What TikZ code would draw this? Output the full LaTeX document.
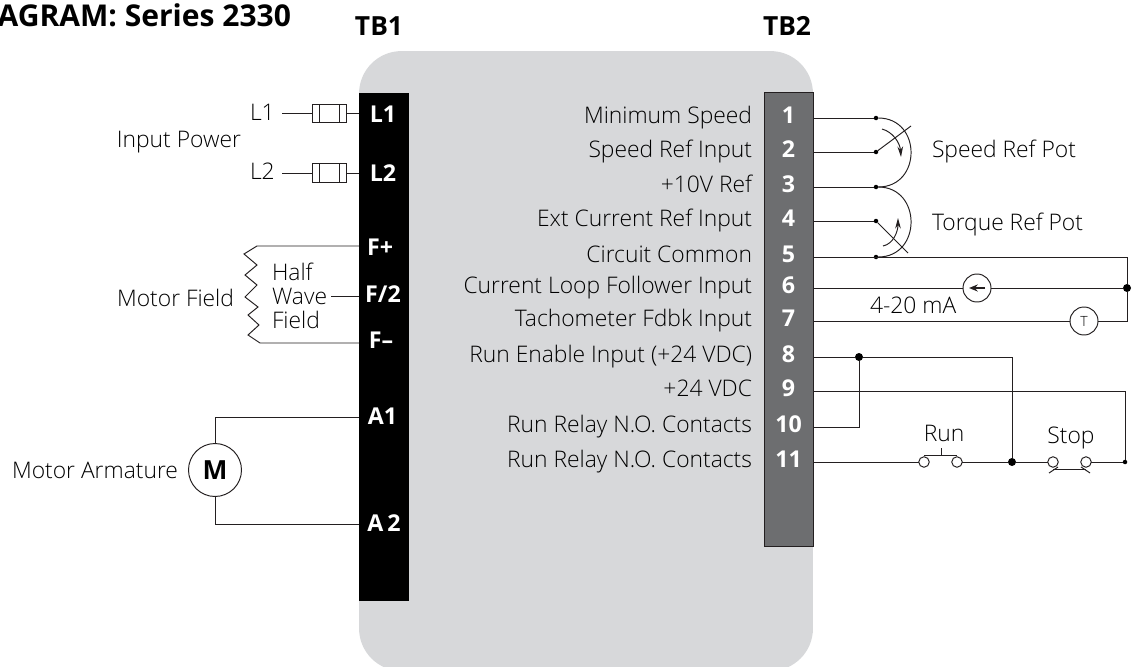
\documentclass[tikz,border=0pt]{standalone}
\usepackage{fontspec}
\setmainfont{Open Sans Light}[BoldFont={Open Sans Bold}]
\usetikzlibrary{arrows.meta,positioning}
\definecolor{panelgray}{HTML}{D7D8DA}
\definecolor{stripgray}{HTML}{6D6E70}
\definecolor{inkgray}{HTML}{231F20}
\begin{document}
\begin{tikzpicture}[
  x=0.02cm, y=-0.02cm,
  every node/.style={font=\fontsize{13}{14}\selectfont, text=black, inner sep=0pt, outer sep=0pt},
  panel/.style={rectangle, fill=panelgray, rounded corners=0.85cm, minimum width=9.08cm, minimum height=12.4cm},
  tbone/.style={rectangle, minimum width=1cm, font=\fontsize{13.2}{14}\bfseries\selectfont, text=white, text height=9.6pt, text depth=0pt},
  tbtwo/.style={rectangle, minimum width=0.98cm, font=\fontsize{13.2}{14}\bfseries\selectfont, text=white, text height=8.6pt, text depth=2pt},
  termlabel/.style={left=0.24cm of #1, text height=8.6pt, text depth=2pt},
  heading/.style={font=\fontsize{15}{16}\bfseries\selectfont, text=black},
  wire/.style={line width=0.55pt, draw=inkgray},
  jdot/.style={circle, fill=black, minimum size=0.16cm},
  smalldot/.style={circle, fill=black, minimum size=0.09cm},
  fuse/.style={rectangle, draw=inkgray, line width=0.55pt, fill=white, minimum width=0.68cm, minimum height=0.37cm},
  meter/.style={circle, draw=inkgray, line width=0.55pt, fill=white, minimum size=0.56cm},
  contact/.style={circle, draw=inkgray, line width=0.55pt, fill=white, minimum size=0.21cm}
]
\useasboundingbox (0,0) rectangle (1132,666);

% --- Panel and terminal strips ---
\node[panel] (board) at (586,361) {};
\node[rectangle, fill=black, minimum width=1cm, minimum height=10.16cm] (stripone) at (384,347) {};
\node[rectangle, fill=stripgray, draw=inkgray, line width=0.5pt, minimum width=0.98cm, minimum height=9.08cm] (striptwo) at (788.5,319) {};

\node[heading, font=\fontsize{17.1}{18}\bfseries\selectfont] (titlehead) [anchor=base east] at (291,27) {AGRAM: Series 2330};
\node[heading] (tbonehead) [anchor=base] at (379,35) {TB1};
\node[heading] (tbtwohead) [anchor=base] at (787,35) {TB2};

% --- TB1 terminals ---
\foreach \name/\x/\y/\txt in {la/383/114/L1, lb/383/173.5/L2, fp/380/247/F+, fh/383/294/{F/2}, fm/381/340/F--, aa/382.5/416/A1, ab/384/523/A\,2}
  \node[tbone] (\name) at (\x,\y) {\txt};

% --- TB2 terminals and labels ---
\foreach \n/\y/\txt in {1/118/Minimum Speed, 2/152/Speed Ref Input, 3/187/+10V Ref,
    4/221/Ext Current Ref Input, 5/257/Circuit Common, 6/288/Current Loop Follower Input,
    7/321/Tachometer Fdbk Input, 8/357/Run Enable Input (+24 VDC), 9/391/+24 VDC,
    10/427/Run Relay N.O. Contacts, 11/462/Run Relay N.O. Contacts}{
  \node[tbtwo] (t\n) at (788.5,\y) {\n};
  \node[termlabel=striptwo.west |- t\n] (lab\n) {\txt};
}

% --- Input power ---
\node (lineone) [anchor=base west] at (250,120) {L1};
\node (linetwo) [anchor=base west] at (250,179) {L2};
\node (inpower) [anchor=base east] at (241,147) {Input Power};
\node[fuse] (fusea) at (329,113.5) {};
\node[fuse] (fuseb) at (329,173) {};
\foreach \f in {fusea,fuseb}{
  \draw[wire] (\f.north west) ++(7,0) -- ++(0,18.5);
  \draw[wire] (\f.north east) ++(-7,0) -- ++(0,18.5);
}
\coordinate (lineonend) at (282,113.5);
\coordinate (linetwoend) at (282,173);
\draw[wire] (lineonend) -- (fusea.west);
\draw[wire] (linetwoend) -- (fuseb.west);
\draw[wire] (fusea.east) -- (stripone.west |- fusea);
\draw[wire] (fuseb.east) -- (stripone.west |- fuseb);

% --- Motor field ---
\node (motfield) [anchor=base east] at (234,306) {Motor Field};
\node[align=left, anchor=west, font=\fontsize{13}{13.6}\selectfont] (halfwave) at (272,296) {Half\\Wave\\Field};
\draw[wire] (stripone.west |- 0,246) -- (257,246) -- (244,254) -- (257,265) -- (245,275) -- (257,285)
  -- (245,297) -- (258,307) -- (248,315) -- (259,325) -- (248,335) -- (260,343) -- (stripone.west |- 0,343);
\draw[wire] (331,296) -- (stripone.west |- 0,296);

% --- Motor armature ---
\node[circle, draw=inkgray, line width=0.55pt, minimum size=1.06cm, font=\fontsize{15}{16}\bfseries\selectfont] (motor) at (215,470) {M};
\node (armature) [anchor=base east] at (178,478) {Motor Armature};
\draw[wire] (motor.north) -- (motor.north |- 0,417) -- (stripone.west |- 0,417);
\draw[wire] (motor.south) -- (motor.south |- 0,524) -- (stripone.west |- 0,524);

% --- Speed and torque pots ---
\foreach \n in {1,2,3,4,5}{
  \node[smalldot] (d\n) at (876,0 |- t\n) {};
  \draw[wire] (t\n.east) -- (d\n);
}
\draw[wire] (d1) .. controls +(46,0) and +(46,0) .. (d3);
\draw[wire] (d3) .. controls +(46,0) and +(46,0) .. (d5);
\coordinate (speedtip) at (911,126);
\coordinate (torquetip) at (908,253);
\draw[wire] (d2) -- (speedtip);
\draw[wire] (d4) -- (torquetip);
\draw[wire, -{Stealth[length=6pt,width=3.2pt]}] (882,129) .. controls (893,132) and (900,143) .. (901,157);
\draw[wire, -{Stealth[length=6pt,width=3.2pt]}] (883,246) .. controls (893,244) and (898,232) .. (898,218);
\node (speedpot) [anchor=base west] at (932,157) {Speed Ref Pot};
\node (torquepot) [anchor=base west] at (932,230) {Torque Ref Pot};

% --- Loop follower and tachometer ---
\node[jdot] (jloop) at (1127,288) {};
\node[meter] (source) at (977,288) {};
\node[meter, font=\fontsize{8}{9}\selectfont] (tacho) at (1084,321) {T};
\node (milliamp) [anchor=base west] at (870,313) {4-20 mA};
\draw[wire] (t5.east) -- (jloop.center |- t5) -- (jloop);
\draw[wire] (t6.east) -- (source.west);
\draw[wire] (source.east) -- (jloop);
\draw[wire] (t7.east) -- (tacho.west);
\draw[wire] (tacho.east) -- (jloop.center |- tacho) -- (jloop);
\draw[wire, line width=0.8pt, -{Stealth[length=5pt,width=4pt]}] (source.center) ++(8,0) -- ++(-16,0);

% --- Run and stop circuit ---
\node[jdot] (jeight) at (859,357) {};
\node[jdot] (jrun) at (1012,462) {};
\node[smalldot] (jstop) at (1125,462) {};
\node[contact] (runa) at (924,462) {};
\node[contact] (runb) at (957,462) {};
\node[contact] (stopa) at (1053,462) {};
\node[contact] (stopb) at (1086,462) {};
\node (runlab) [anchor=base] at (944,441) {Run};
\node (stoplab) [anchor=base] at (1071,443) {Stop};
\draw[wire] (t8.east) -- (jeight);
\draw[wire] (jeight) -- (jrun.center |- jeight) -- (jrun);
\draw[wire] (t10.east) -- (jeight.center |- t10) -- (jeight);
\draw[wire] (t9.east) -- (jstop.center |- t9) -- (jstop);
\draw[wire] (t11.east) -- (runa.west);
\draw[wire] (runb.east) -- (jrun);
\draw[wire] (jrun) -- (stopa.west);
\draw[wire] (stopb.east) -- (jstop);

% Push buttons
\draw[wire] (runa.center) ++(0,-7) -- (runb.center |- 0,455);
\draw[wire] (941,455) -- (941,448);
\draw[wire] (stopa.center) ++(0,7) -- (stopb.center |- 0,469);
\draw[wire] (stopa.center) ++(5,5) -- ++(-9,6);
\draw[wire] (stopb.center) ++(-5,5) -- ++(9,6);

\end{tikzpicture}
\end{document}
